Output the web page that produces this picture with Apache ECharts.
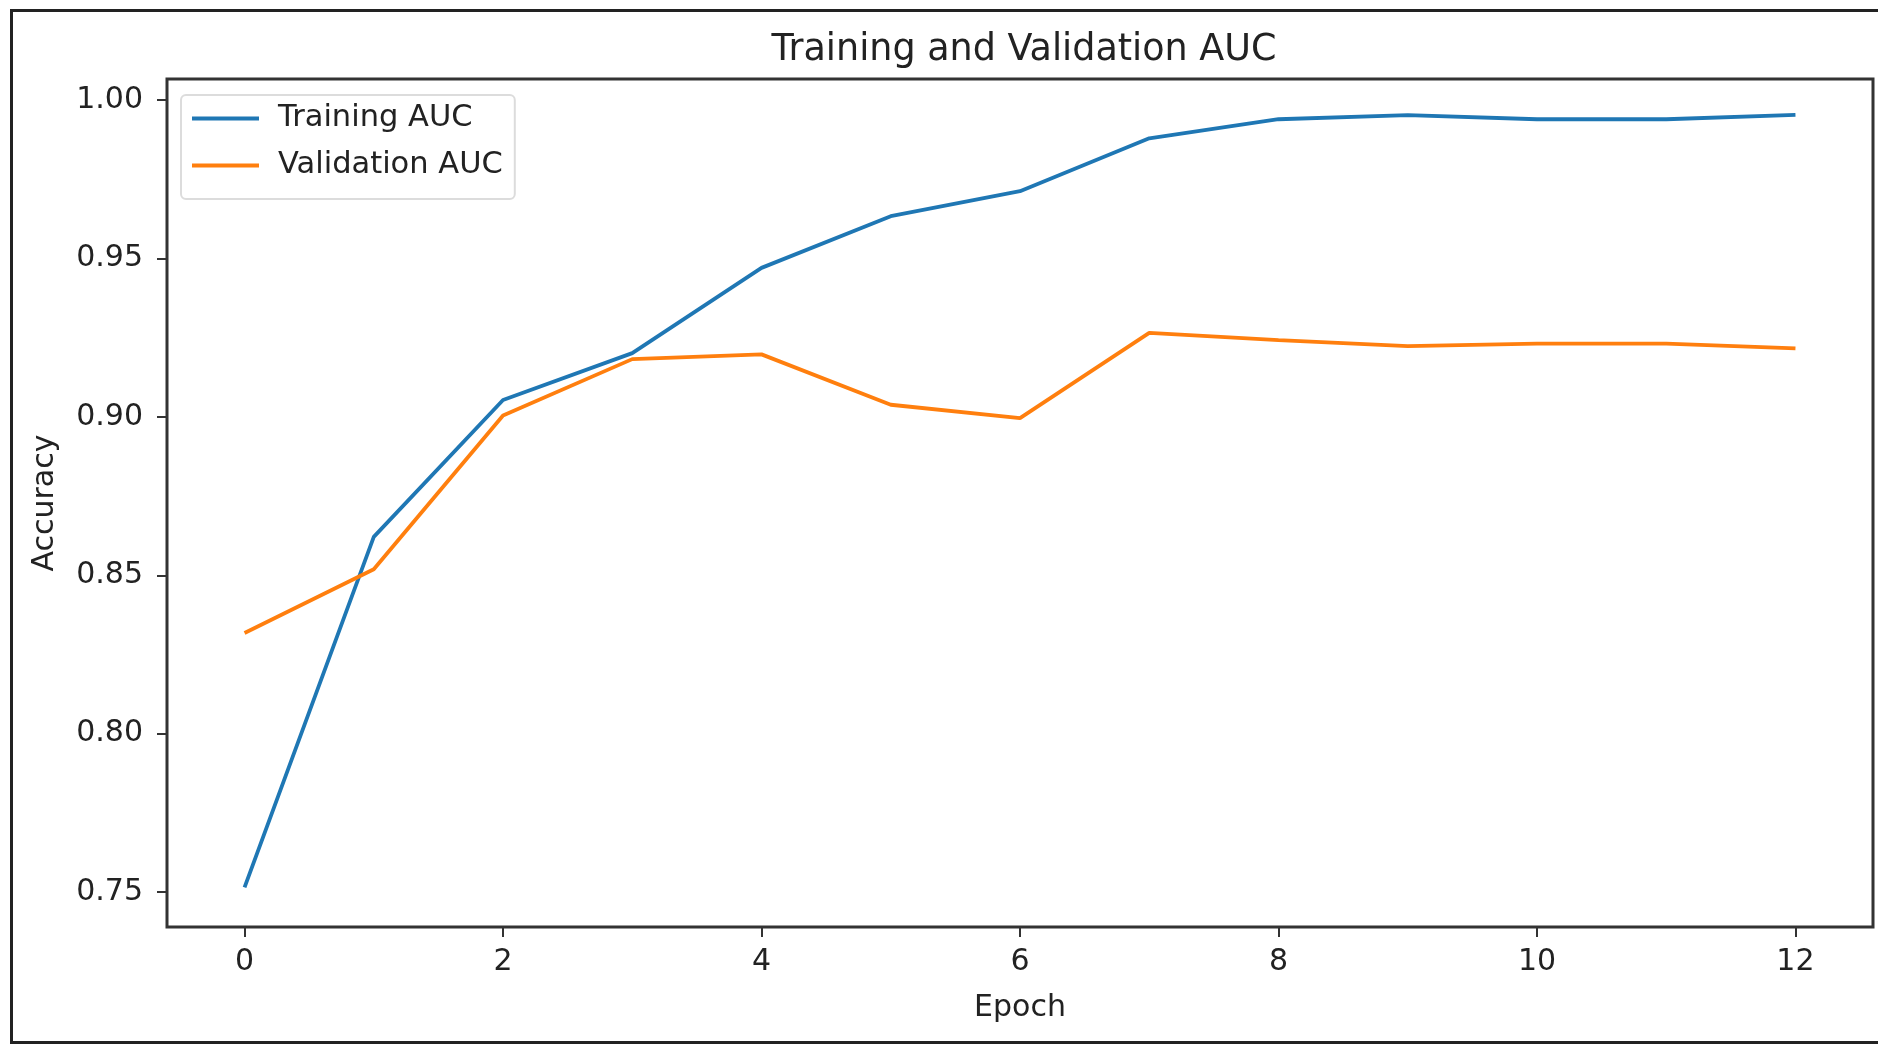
<!DOCTYPE html>
<html>
<head>
<meta charset="utf-8">
<script src="https://cdn.jsdelivr.net/npm/echarts@6/dist/echarts.min.js"></script>
<style>
html,body{margin:0;padding:0;background:#fff;}
#chart{width:1878px;height:1045px;}
</style>
</head>
<body>
<div id="chart"></div>
<script>
var epochs = [0,1,2,3,4,5,6,7,8,9,10,11,12];
var trainingAUC = [0.7515,0.8621,0.9053,0.9201,0.9470,0.9633,0.9712,0.9879,0.9939,0.9952,0.9939,0.9939,0.9953];
var validationAUC = [0.8318,0.8519,0.9004,0.9182,0.9197,0.9038,0.8996,0.9265,0.9242,0.9223,0.9231,0.9231,0.9216];
var xTicks = [0,2,4,6,8,10,12];
var yTicks = [0.75,0.80,0.85,0.90,0.95,1.00];

var FONT = 'DejaVu Sans';
var chart = echarts.init(document.getElementById('chart'));
function pairs(v){ return epochs.map(function(e,i){ return [e, v[i]]; }); }
chart.setOption({
  animation: false,
  backgroundColor: '#fff',
  textStyle: {fontFamily: FONT},
  title: {
    text: 'Training and Validation AUC',
    left: 1019, top: 27, textAlign: 'center',
    textStyle: {fontFamily: FONT, fontSize: 36.5, fontWeight: 'normal', color: '#222'}
  },
  grid: {
    left: 167, top: 79, right: 5, bottom: 118,
    show: true, borderColor: '#333', borderWidth: 3, backgroundColor: 'transparent'
  },
  legend: {
    left: 181, top: 95, orient: 'vertical',
    itemWidth: 67, itemHeight: 4, itemGap: 16,
    icon: 'rect',
    padding: [8, 12, 18, 11],
    borderColor: '#dcdcdc', borderWidth: 2, borderRadius: 5,
    backgroundColor: 'rgba(255,255,255,0.8)',
    textStyle: {fontFamily: FONT, fontSize: 30.5, color: '#222', padding: [0,0,0,14]},
    data: ['Training AUC', 'Validation AUC']
  },
  xAxis: {
    type: 'value', min: -0.6, max: 12.6,
    name: 'Epoch', nameLocation: 'middle', nameGap: 66,
    nameTextStyle: {fontFamily: FONT, fontSize: 30, color: '#222'},
    axisLine: {show: false, onZero: false},
    axisTick: {show: true, length: 10, inside: false, customValues: xTicks, lineStyle: {color: '#333', width: 2}},
    axisLabel: {customValues: xTicks, margin: 20, fontFamily: FONT, fontSize: 30, color: '#222'},
    splitLine: {show: false}
  },
  yAxis: {
    type: 'value', min: 0.739, max: 1.0066,
    name: 'Accuracy', nameLocation: 'middle', nameGap: 107,
    nameTextStyle: {fontFamily: FONT, fontSize: 30, color: '#222'},
    axisLine: {show: false, onZero: false},
    axisTick: {show: true, length: 10, customValues: yTicks, lineStyle: {color: '#333', width: 2}},
    axisLabel: {customValues: yTicks, margin: 24, fontFamily: FONT, fontSize: 30, color: '#222',
      formatter: function(v){ return v.toFixed(2); }},
    splitLine: {show: false}
  },
  series: [
    {name: 'Training AUC', type: 'line', data: pairs(trainingAUC), showSymbol: false,
      lineStyle: {color: '#1f77b4', width: 3.8}, itemStyle: {color: '#1f77b4'}},
    {name: 'Validation AUC', type: 'line', data: pairs(validationAUC), showSymbol: false,
      lineStyle: {color: '#ff7f0e', width: 3.8}, itemStyle: {color: '#ff7f0e'}}
  ],
  graphic: [
    {type: 'rect', silent: true, z: 100,
      shape: {x: 11.5, y: 10.5, width: 1900, height: 1032},
      style: {fill: 'none', stroke: '#222', lineWidth: 3}}
  ]
});
</script>
</body>
</html>
